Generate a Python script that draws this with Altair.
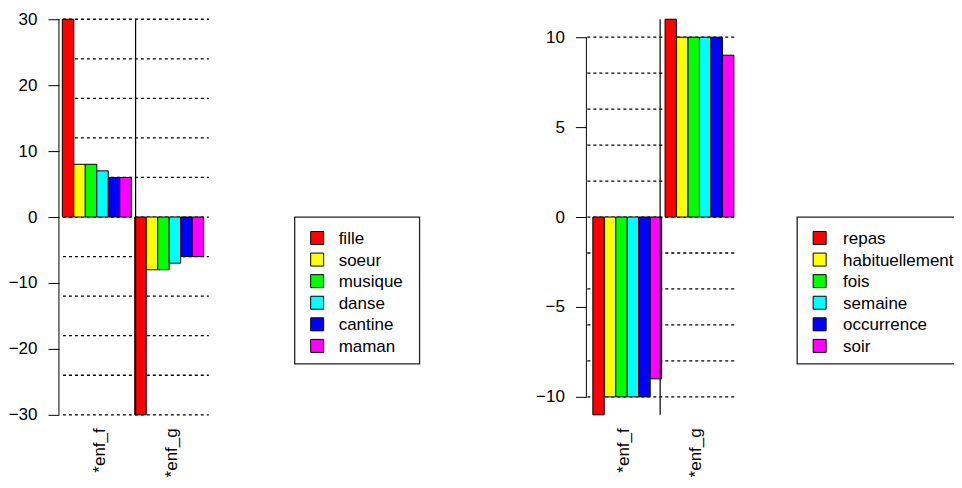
import altair as alt
import pandas as pd

groups = ["*enf_f", "*enf_g"]
colors = ["#FF0000", "#FFFF00", "#00FF00", "#00FFFF", "#0000FF", "#FF00FF"]

left_words = ["fille", "soeur", "musique", "danse", "cantine", "maman"]
left_enf_f = [30, 8, 8, 7, 6, 6]
left_enf_g = [-30, -8, -8, -7, -6, -6]
left_ticks = [-30, -20, -10, 0, 10, 20, 30]
left_grid = [-30, -24, -18, -12, -6, 0, 6, 12, 18, 24, 30]

right_words = ["repas", "habituellement", "fois", "semaine", "occurrence", "soir"]
right_enf_f = [-11, -10, -10, -10, -10, -9]
right_enf_g = [11, 10, 10, 10, 10, 9]
right_ticks = [-10, -5, 0, 5, 10]
right_grid = [-10, -8, -6, -4, -2, 0, 2, 4, 6, 8, 10]

FONT = "Liberation Sans"
H = 396
NOSTROKE = alt.ViewBackground(stroke="transparent", strokeWidth=0)


def plot_panel(words, vf, vg, ticks, grid, dom, width, align, pin, pout, axis_off, barw):
    bars = pd.DataFrame({
        "group": [groups[0]] * len(words) + [groups[1]] * len(words),
        "word": words + words,
        "value": vf + vg,
    })
    xs = alt.Scale(domain=groups, paddingInner=pin, paddingOuter=pout, align=align)
    ys = alt.Scale(domain=dom, nice=False, zero=False)
    xaxis = alt.Axis(title=None, domain=False, ticks=False, grid=False, labelAngle=270,
                     labelPadding=13, labelFontSize=17, labelFont=FONT,
                     labelColor="black")
    yaxis = alt.Axis(title=None, domain=False, grid=False, values=ticks,
                     tickSize=11, tickColor="black", tickWidth=1,
                     labelPadding=11, offset=axis_off, labelFontSize=17,
                     labelFont=FONT, labelColor="black", labelFlush=False,
                     labelOverlap=False)

    gridlines = alt.Chart(pd.DataFrame({"value": grid})).mark_rule(
        color="black", strokeDash=[3, 3], strokeWidth=1.3
    ).encode(
        y=alt.Y("value:Q", scale=ys, axis=yaxis),
        x=alt.value(0), x2=alt.value(width),
    )

    barchart = alt.Chart(bars).mark_bar(
        stroke="black", strokeWidth=1, width=barw
    ).encode(
        x=alt.X("group:N", scale=xs, axis=xaxis, sort=groups),
        xOffset=alt.XOffset("word:N", sort=words,
                            scale=alt.Scale(paddingInner=0, paddingOuter=0)),
        y=alt.Y("value:Q", scale=ys, axis=yaxis),
        color=alt.Color("word:N", sort=words,
                        scale=alt.Scale(domain=words, range=colors), legend=None),
    )

    sep = alt.Chart(pd.DataFrame({"group": [groups[1]]})).mark_rule(
        color="black", strokeWidth=1.2, xOffset=-2
    ).encode(
        x=alt.X("group:N", bandPosition=0, axis=xaxis, sort=groups),
        y=alt.value(0), y2=alt.value(H),
    )

    axisline = alt.Chart(pd.DataFrame({"value": [min(ticks)], "hi": [max(ticks)]})).mark_rule(
        color="black", strokeWidth=1
    ).encode(
        x=alt.value(-axis_off),
        y=alt.Y("value:Q", scale=ys, axis=yaxis), y2="hi:Q",
    )

    return alt.layer(gridlines, barchart, sep, axisline).properties(
        width=width, height=H, view=NOSTROKE)


def legend_panel(words, width, box_x1, box_x2, sym_x, text_x):
    ldf = pd.DataFrame({"word": words})
    ly = alt.Y("word:N", axis=None,
               scale=alt.Scale(type="point", domain=words, range=[219, 327], padding=0))
    box = alt.Chart(pd.DataFrame({"b": [0]})).mark_rect(
        fill="white", stroke="#222", strokeWidth=1.3, clip=True
    ).encode(x=alt.value(box_x1), x2=alt.value(box_x2),
             y=alt.value(198), y2=alt.value(345))
    squares = alt.Chart(ldf).mark_square(
        size=169, stroke="black", strokeWidth=1, opacity=1, filled=True
    ).encode(
        y=ly, x=alt.value(sym_x),
        color=alt.Color("word:N", scale=alt.Scale(domain=words, range=colors), legend=None),
    )
    labels = alt.Chart(ldf).mark_text(
        align="left", baseline="middle", fontSize=17, font=FONT, color="black",
        clip=True, dy=1
    ).encode(y=ly, x=alt.value(text_x), text="word:N")
    return alt.layer(box, squares, labels).properties(width=width, height=H, view=NOSTROKE)


left = plot_panel(left_words, left_enf_f, left_enf_g, left_ticks, left_grid, [-30, 30],
                  146, 0.5, 0.048, 0.031, 4, 11.5)
left_leg = legend_panel(left_words, 379, 86, 211, 108.5, 130)
right = plot_panel(right_words, right_enf_f, right_enf_g, right_ticks, right_grid, [-11, 11],
                   148, 0.35, 0.053, 0.05, 1, 11.4)
right_leg = legend_panel(right_words, 219, 62, 260, 84.5, 108)

chart = alt.hconcat(left, left_leg, right, right_leg, spacing=0, bounds="flush").resolve_scale(
    color="independent", y="independent", x="independent"
).properties(
    padding={"left": 0, "top": 2, "right": 0, "bottom": -1}
).configure(font=FONT).configure_view(stroke="transparent", strokeWidth=0)

chart.save("out.html", embed_options={"renderer": "svg", "actions": False})
